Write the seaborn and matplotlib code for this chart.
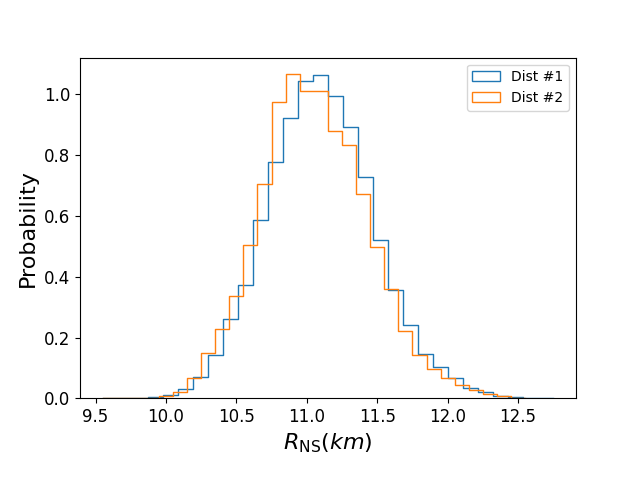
import numpy as np
import pandas as pd
import matplotlib
matplotlib.use("Agg")
import matplotlib.pyplot as plt
import seaborn as sns
from matplotlib.patches import Patch

# Bin edges (30 bins each)
edges_1 = np.linspace(9.554, 12.751, 31)
edges_2 = np.linspace(9.55, 12.55, 31)

# Probability density per bin
dens_1 = [0.0, 0.0, 0.002, 0.003, 0.010, 0.030, 0.069, 0.144, 0.260, 0.372,
          0.587, 0.777, 0.923, 1.045, 1.063, 0.996, 0.893, 0.729, 0.521, 0.357,
          0.241, 0.147, 0.103, 0.066, 0.035, 0.020, 0.009, 0.003, 0.001, 0.001]
dens_2 = [0.0, 0.0, 0.0, 0.001, 0.008, 0.021, 0.066, 0.148, 0.228, 0.336,
          0.505, 0.705, 0.976, 1.068, 1.013, 1.013, 0.881, 0.834, 0.673, 0.498,
          0.361, 0.222, 0.143, 0.096, 0.066, 0.044, 0.028, 0.016, 0.007, 0.001]

labels = ["Dist #1", "Dist #2"]
colors = ["#1f77b4", "#ff7f0e"]

fig, ax = plt.subplots(figsize=(6.4, 4.8), dpi=100)
fig.subplots_adjust(bottom=0.17)

for edges, dens, col in zip([edges_1, edges_2], [dens_1, dens_2], colors):
    df = pd.DataFrame({"r": (edges[:-1] + edges[1:]) / 2, "w": dens})
    sns.histplot(data=df, x="r", weights="w", bins=list(edges), element="step",
                 fill=False, color=col, linewidth=1.0, ax=ax)

ax.set_ylim(0, max(max(dens_1), max(dens_2)) * 1.05)
ax.set_xlabel(r"$R_{\rm NS} (km)$", fontsize=16)
ax.set_ylabel("Probability", fontsize=16)
ax.tick_params(labelsize=12)

handles = [Patch(facecolor="none", edgecolor=c, label=l) for c, l in zip(colors, labels)]
ax.legend(handles=handles, loc="upper right")

fig.savefig("out.png", dpi=100)
